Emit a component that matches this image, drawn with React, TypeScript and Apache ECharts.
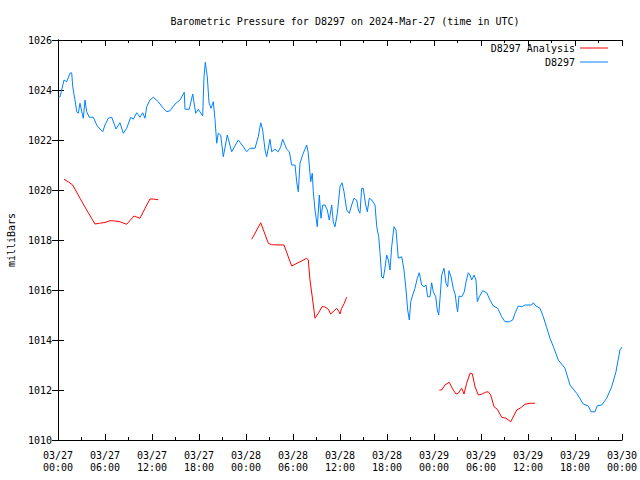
import React, { useEffect, useRef } from "react";
import * as echarts from "echarts";

// Hours since 2024-03-27 00:00 UTC
const xTickLabels = [
  "03/27\n00:00", "03/27\n06:00", "03/27\n12:00", "03/27\n18:00",
  "03/28\n00:00", "03/28\n06:00", "03/28\n12:00", "03/28\n18:00",
  "03/29\n00:00", "03/29\n06:00", "03/29\n12:00", "03/29\n18:00",
  "03/30\n00:00",
];

const stationHours = [
  0, 0.26, 0.47, 0.77, 1.11, 1.53, 1.75, 1.88, 2.17, 2.39, 2.59, 2.81, 3.03, 3.23, 3.45, 3.66,
  4.0, 4.51, 4.94, 5.36, 5.71, 6.0, 6.42, 6.86, 7.4, 7.91, 8.34, 8.77, 9.28, 9.61, 10.05, 10.47,
  10.81, 11.11, 11.32, 11.74, 12.17, 12.8, 13.44, 13.88, 14.3, 14.94, 15.57, 16.12, 16.21, 16.76,
  17.2, 17.58, 17.91, 18.47, 18.64, 18.8, 19.06, 19.28, 19.53, 19.83, 20.04, 20.26, 20.46, 20.77,
  21.1, 21.61, 22.17, 23.02, 23.66, 24.09, 24.51, 25.15, 25.57, 25.88, 26.13, 26.43, 26.64, 27.06,
  27.28, 27.7, 28.12, 28.43, 28.68, 29.2, 29.53, 29.83, 30.26, 30.47, 30.68, 30.89, 31.31, 31.75,
  31.95, 32.26, 32.46, 32.59, 32.81, 33.1, 33.36, 33.57, 33.79, 34.09, 34.38, 34.63, 34.94, 35.14,
  35.36, 35.66, 36.0, 36.26, 36.51, 36.86, 37.19, 37.49, 37.79, 38.13, 38.34, 38.55, 38.77, 38.97,
  39.28, 39.49, 39.74, 40.05, 40.47, 40.69, 40.94, 41.11, 41.32, 41.53, 41.74, 41.96, 42.17, 42.38,
  42.6, 42.89, 43.15, 43.44, 43.88, 44.17, 44.43, 44.64, 44.85, 45.03, 45.28, 45.57, 45.87, 46.12,
  46.43, 46.72, 46.98, 47.19, 47.49, 47.7, 47.91, 48.22, 48.42, 48.6, 48.77, 48.98, 49.28, 49.53,
  49.75, 49.91, 50.17, 50.46, 50.72, 50.9, 51.02, 51.19, 51.54, 51.87, 52.09, 52.38, 52.6, 52.81,
  53.11, 53.36, 53.53, 53.78, 54.22, 54.73, 55.15, 55.57, 56.13, 56.64, 57.06, 57.61, 58.05, 58.34,
  58.76, 59.19, 59.62, 60.47, 60.68, 61.02, 61.53, 61.95, 62.38, 62.81, 63.32, 63.87, 64.72, 65.36,
  66.21, 67.06, 67.7, 68.04, 68.55, 68.85, 69.41, 70.04, 70.68, 71.23, 71.74, 72.0,
];

const stationPressure = [
  1023.7, 1023.73, 1024.0, 1024.4, 1024.33, 1024.67, 1024.69, 1024.13, 1023.6, 1023.13, 1023.07, 1023.47, 1023.13, 1022.87, 1023.6, 1023.13,
  1022.91, 1022.91, 1022.6, 1022.44, 1022.33, 1022.6, 1022.87, 1022.91, 1022.44, 1022.69, 1022.27, 1022.47, 1022.91, 1022.83, 1023.09, 1022.91,
  1023.09, 1022.87, 1023.33, 1023.6, 1023.71, 1023.53, 1023.27, 1023.13, 1023.17, 1023.44, 1023.6, 1023.91, 1023.23, 1023.23,
  1023.84, 1023.07, 1023.23, 1022.96, 1024.53, 1025.11, 1024.53, 1023.49, 1023.27, 1023.53, 1022.83, 1021.87, 1022.27, 1022.2,
  1021.33, 1022.2, 1021.53, 1022.0, 1021.73, 1021.53, 1021.67, 1021.67, 1022.13, 1022.69, 1022.4, 1021.6, 1021.33, 1022.03,
  1021.53, 1021.63, 1021.53, 1021.73, 1022.03, 1021.63, 1021.53, 1021.0, 1021.0, 1020.33, 1019.93, 1021.07, 1021.47, 1021.8,
  1021.47, 1020.33, 1020.67, 1019.93, 1019.2, 1018.53, 1019.8, 1018.87, 1019.4, 1019.4, 1019.2, 1018.8, 1019.4, 1018.73,
  1018.53, 1019.07, 1020.13, 1020.29, 1019.93, 1019.2, 1019.07, 1019.4, 1019.67, 1019.6, 1019.2, 1019.07, 1020.07, 1020.07,
  1019.4, 1019.13, 1019.67, 1019.6, 1019.4, 1018.53, 1018.13, 1017.5, 1016.53, 1016.47, 1016.87, 1017.4, 1017.2, 1016.8,
  1017.73, 1018.53, 1018.4, 1017.27, 1017.33, 1016.8, 1016.0, 1015.2, 1014.8, 1015.53, 1015.8, 1016.07, 1016.47, 1016.69,
  1016.2, 1016.13, 1016.2, 1015.73, 1015.73, 1016.29, 1015.93, 1015.73, 1015.2, 1015.0, 1015.67, 1016.6, 1016.87, 1016.27,
  1016.13, 1016.77, 1016.53, 1016.07, 1015.8, 1015.33, 1015.13, 1015.76, 1015.73, 1015.93, 1016.33, 1016.69, 1016.6, 1016.4,
  1016.6, 1016.4, 1015.53, 1015.73, 1015.97, 1015.89, 1015.6, 1015.36, 1015.27, 1014.93, 1014.73, 1014.73, 1014.8, 1015.07,
  1015.36, 1015.33, 1015.4, 1015.4, 1015.49, 1015.36, 1015.27, 1014.93, 1014.5, 1014.07, 1013.67, 1013.2, 1012.87, 1012.2,
  1011.87, 1011.44, 1011.36, 1011.13, 1011.13, 1011.37, 1011.4, 1011.67, 1012.13, 1012.73, 1013.6, 1013.72,
];

const analysisHours1 = [0.77, 1.31, 1.88, 2.81, 3.66, 4.72, 5.27, 6.0, 6.64, 7.06, 7.91, 8.77, 9.7, 10.47, 11.11, 11.74, 12.17, 12.8];
const analysisPressure1 = [1020.43, 1020.33, 1020.2, 1019.67, 1019.2, 1018.64, 1018.67, 1018.7, 1018.77, 1018.77, 1018.73, 1018.63, 1018.96, 1018.87, 1019.27, 1019.64, 1019.64, 1019.61];

const analysisHours2 = [24.73, 25.88, 26.85, 27.28, 28.85, 29.83, 30.89, 31.75, 31.95, 32.17, 32.51, 32.81, 33.23, 33.7, 34.04, 34.51, 34.81, 35.58, 35.88, 36.0, 36.21, 36.55, 36.85];
const analysisPressure2 = [1018.03, 1018.69, 1017.87, 1017.81, 1017.8, 1016.96, 1017.13, 1017.27, 1017.2, 1016.4, 1015.6, 1014.87, 1015.07, 1015.33, 1015.33, 1015.23, 1015.04, 1015.27, 1015.13, 1015.04, 1015.27, 1015.47, 1015.71];

const analysisHours3 = [48.68, 48.98, 49.4, 49.95, 50.39, 50.81, 51.1, 51.54, 51.83, 52.17, 52.6, 52.89, 53.24, 53.66, 54.08, 54.56, 54.93, 55.24, 55.66, 56.08, 56.64, 57.19, 57.79, 58.56, 58.98, 59.62, 60.26, 60.89];
const analysisPressure3 = [1012.0, 1012.0, 1012.2, 1012.31, 1012.03, 1011.84, 1011.87, 1012.07, 1011.84, 1012.27, 1012.67, 1012.65, 1012.13, 1011.8, 1011.83, 1011.91, 1011.93, 1011.8, 1011.33, 1011.23, 1010.91, 1010.87, 1010.73, 1011.2, 1011.27, 1011.43, 1011.47, 1011.47];

const FONT = "DejaVu Sans Mono";

function pairs(hours: number[], vals: number[]) {
  return hours.map((h, i) => [h, vals[i]]);
}

export default function App() {
  const ref = useRef<HTMLDivElement>(null);
  useEffect(() => {
    if (!ref.current) return;
    const chart = echarts.init(ref.current, null, { renderer: "svg" });
    const analysisData: any[] = [
      ...pairs(analysisHours1, analysisPressure1),
      [18, "-"],
      ...pairs(analysisHours2, analysisPressure2),
      [42, "-"],
      ...pairs(analysisHours3, analysisPressure3),
    ];
    const axisLine = { show: true, lineStyle: { color: "#000", width: 1 } };
    chart.setOption({
      animation: false,
      backgroundColor: "#fff",
      textStyle: { fontFamily: FONT },
      title: {
        text: "Barometric Pressure for D8297 on 2024-Mar-27 (time in UTC)",
        left: 340,
        top: 11,
        textAlign: "center",
        textStyle: { fontFamily: FONT, fontSize: 10, fontWeight: "normal", color: "#000" },
      },
      legend: [
        {
          data: ["D8297 Analysis"],
          right: 32,
          top: 43,
          padding: 0,
          align: "right",
          icon: "rect",
          itemWidth: 28,
          itemHeight: 1,
          textStyle: { fontFamily: FONT, fontSize: 10, color: "#000" },
        },
        {
          data: ["D8297"],
          right: 32,
          top: 57,
          padding: 0,
          align: "right",
          icon: "rect",
          itemWidth: 28,
          itemHeight: 1,
          textStyle: { fontFamily: FONT, fontSize: 10, color: "#000" },
        },
      ],
      grid: { left: 58, right: 18, top: 40, bottom: 40, containLabel: false, outerBoundsMode: "none" },
      xAxis: [
        {
          type: "value",
          min: 0,
          max: 72,
          interval: 6,
          position: "bottom",
          axisLine,
          axisTick: { show: true, inside: true, length: 6, lineStyle: { color: "#000" } },
          minorTick: { show: true, splitNumber: 2, length: 3, lineStyle: { color: "#000" } },
          splitLine: { show: false },
          axisLabel: {
            show: true,
            margin: 9,
            fontFamily: FONT,
            fontSize: 10,
            lineHeight: 12,
            color: "#000",
            formatter: (v: number) => xTickLabels[Math.round(v / 6)] ?? "",
          },
        },
        {
          type: "value",
          min: 0,
          max: 72,
          interval: 6,
          position: "top",
          axisLine,
          axisTick: { show: true, inside: true, length: 6, lineStyle: { color: "#000" } },
          minorTick: { show: true, splitNumber: 2, length: 3, lineStyle: { color: "#000" } },
          splitLine: { show: false },
          axisLabel: { show: false },
        },
      ],
      yAxis: [
        {
          type: "value",
          min: 1010,
          max: 1026,
          interval: 2,
          position: "left",
          name: "milliBars",
          nameLocation: "middle",
          nameGap: 42,
          nameRotate: 90,
          nameTextStyle: { fontFamily: FONT, fontSize: 10, color: "#000" },
          axisLine,
          axisTick: { show: true, inside: true, length: 6, lineStyle: { color: "#000" } },
          splitLine: { show: false },
          axisLabel: {
            fontFamily: FONT,
            fontSize: 10,
            color: "#000",
            margin: 6,
            formatter: (v: number) => String(v),
          },
        },
        {
          type: "value",
          min: 1010,
          max: 1026,
          interval: 2,
          position: "right",
          axisLine,
          axisTick: { show: true, inside: true, length: 6, lineStyle: { color: "#000" } },
          splitLine: { show: false },
          axisLabel: { show: false },
        },
      ],
      series: [
        {
          name: "D8297 Analysis",
          type: "line",
          data: analysisData,
          showSymbol: false,
          connectNulls: false,
          color: "#ff0000",
          lineStyle: { color: "#ff0000", width: 1 },
        },
        {
          name: "D8297",
          type: "line",
          data: pairs(stationHours, stationPressure),
          showSymbol: false,
          color: "#0080ff",
          lineStyle: { color: "#0080ff", width: 1 },
        },
      ],
    });
    return () => chart.dispose();
  }, []);
  return <div ref={ref} style={{ position: "fixed", left: 0, top: 0, width: 640, height: 480 }} />;
}
